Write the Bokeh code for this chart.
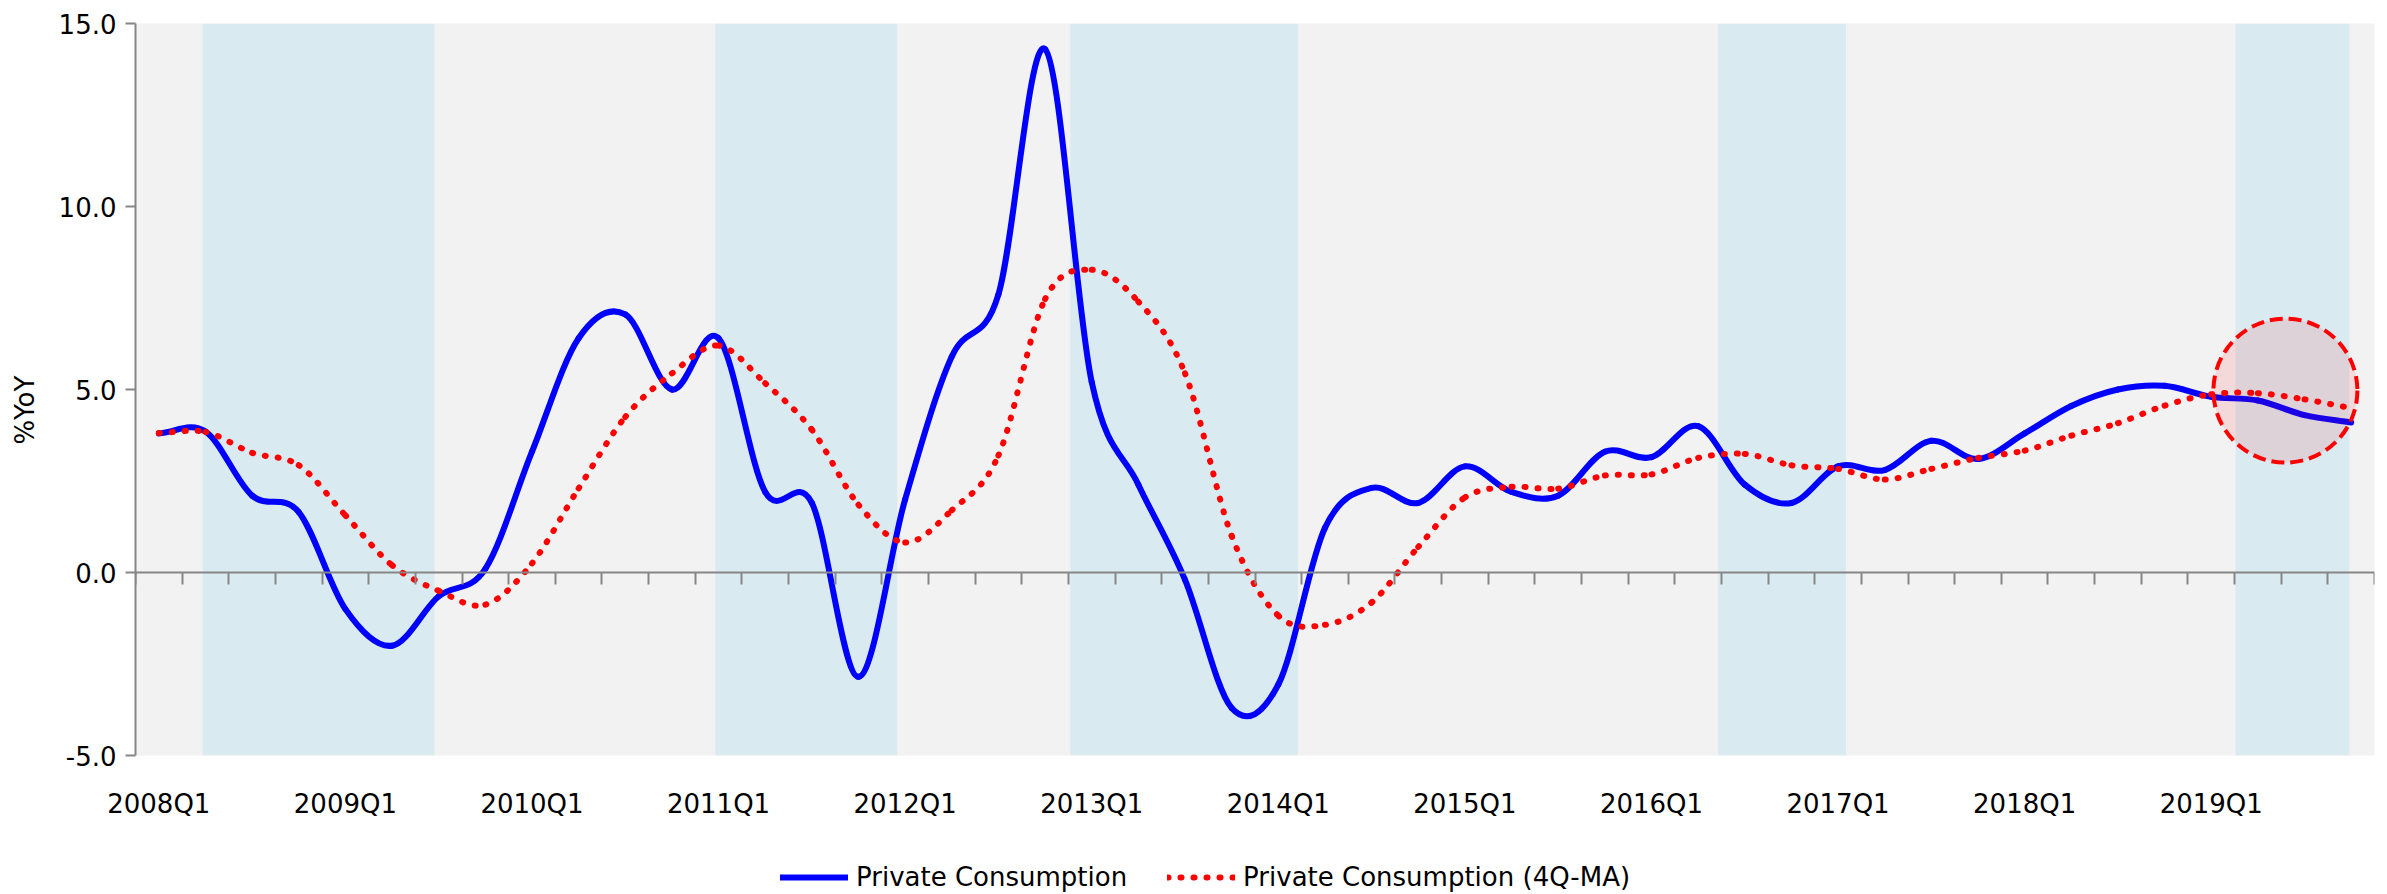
from bokeh.plotting import figure
from bokeh.layouts import column
from bokeh.models import (LinearAxis, FixedTicker, Range1d, Legend, LegendItem,
                          CustomJSTickFormatter, NumeralTickFormatter)
from bokeh.embed import file_html
from bokeh.resources import INLINE

# ---------------- data ----------------
quarters = [f"{y}Q{q}" for y in range(2008, 2020) for q in range(1, 5)]

private_consumption = [
    3.8, 3.85, 2.1, 1.65, -1.0, -2.0, -0.65, 0.1,
    3.3, 6.4, 7.05, 5.0, 6.4, 2.2, 1.9, -2.85,
    2.0, 5.9, 7.6, 14.3, 5.2, 2.4, -0.2, -3.7,
    -3.06, 1.22, 2.31, 1.9, 2.9, 2.2, 2.1, 3.3,
    3.15, 4.0, 2.4, 1.9, 2.9, 2.8, 3.6, 3.1,
    3.8, 4.55, 5.0, 5.1, 4.8, 4.7, 4.3, 4.1,
]

private_consumption_ma = [
    3.81, 3.84, 3.27, 2.93, 1.56, 0.2, -0.5, -0.88,
    0.25, 2.3, 4.25, 5.44, 6.2, 5.17, 3.9, 1.85,
    0.82, 1.7, 3.2, 7.47, 8.27, 7.4, 5.44, 1.0,
    -1.18, -1.43, -0.82, 0.7, 2.05, 2.34, 2.29, 2.65,
    2.68, 3.13, 3.24, 2.93, 2.83, 2.54, 2.83, 3.13,
    3.33, 3.74, 4.08, 4.56, 4.87, 4.9, 4.73, 4.49,
]

series_names = ["Private Consumption", "Private Consumption (4Q-MA)"]

# shaded periods (in quarter-index units from 2008Q1)
band_start = [1.44, 12.43, 20.04, 33.93, 45.02]
band_end = [6.41, 16.33, 24.92, 36.67, 47.46]

# highlighted point (annotation)
highlight_x = [46.09]
highlight_y = [4.97]

y_ticks = [-5, 0, 5, 10, 15]

FONT = "DejaVu Sans"
GRAY = "#868686"
NBSP = "\u00a0"
BLUE = "#0000FF"
RED = "#FF0000"
NAN = float("nan")

x_pos = [i + 0.5 for i in range(len(quarters))]


def smooth(xs, ys):
    n = len(xs)
    tx, ty = [], []
    for i in range(n):
        a = max(i - 1, 0)
        b = min(i + 1, n - 1)
        f = 0.5 if (0 < i < n - 1) else 1.0
        tx.append((xs[b] - xs[a]) * f)
        ty.append((ys[b] - ys[a]) * f)
    seg = dict(x0=[], y0=[], x1=[], y1=[], cx0=[], cy0=[], cx1=[], cy1=[])
    for i in range(n - 1):
        seg["x0"].append(xs[i]); seg["y0"].append(ys[i])
        seg["x1"].append(xs[i + 1]); seg["y1"].append(ys[i + 1])
        seg["cx0"].append(xs[i] + tx[i] / 3); seg["cy0"].append(ys[i] + ty[i] / 3)
        seg["cx1"].append(xs[i + 1] - tx[i + 1] / 3); seg["cy1"].append(ys[i + 1] - ty[i + 1] / 3)
    return seg


MAIN_H = 840
p = figure(width=2387, height=MAIN_H,
           x_range=Range1d(0, len(quarters)), y_range=Range1d(-5, 15),
           output_backend="svg", toolbar_location=None,
           min_border_left=135, min_border_right=13, min_border_top=23,
           min_border_bottom=MAIN_H - 755,
           background_fill_color="#F2F2F2", border_fill_color="white",
           outline_line_color=None)
p.grid.visible = False

# bands
p.quad(left=band_start, right=band_end, bottom=-5, top=15,
       fill_color="#DAEAF1", line_color=None)

# lines
p.bezier(line_color=BLUE, line_width=6, line_cap="round",
         **smooth(x_pos, private_consumption))
p.bezier(line_color=RED, line_width=6, line_cap="round",
         line_dash="1 12", **smooth(x_pos, private_consumption_ma))

# highlight circle
p.scatter(highlight_x, highlight_y, marker="circle", size=144,
          fill_color=RED, fill_alpha=0.1,
          line_color=RED, line_width=4, line_dash="13 6")

# y axis
ya = p.yaxis[0]
ya.ticker = FixedTicker(ticks=y_ticks)
ya.formatter = NumeralTickFormatter(format="0.0")
ya.axis_label = "%YoY" + NBSP * 5
ya.axis_label_text_font = FONT
ya.axis_label_text_font_size = "26px"
ya.axis_label_text_font_style = "normal"
ya.axis_label_text_color = "black"
ya.axis_label_standoff = 16
ya.major_label_text_font = FONT
ya.major_label_text_font_size = "26px"
ya.major_label_text_color = "black"
ya.major_label_standoff = 9
ya.axis_line_color = GRAY
ya.axis_line_width = 2
ya.major_tick_line_color = GRAY
ya.major_tick_line_width = 2
ya.major_tick_in = 0
ya.major_tick_out = 10
ya.minor_tick_line_color = None

# x axis labels (bottom)
xa = p.xaxis[0]
xa.ticker = FixedTicker(ticks=[i + 0.5 for i in range(0, len(quarters), 4)])
xa.formatter = CustomJSTickFormatter(args=dict(labels=quarters),
                                     code="return labels[Math.floor(tick)] || '';")
xa.major_label_text_font = FONT
xa.major_label_text_font_size = "26px"
xa.major_label_text_color = "black"
xa.major_label_standoff = 33
xa.axis_line_color = None
xa.major_tick_line_color = None
xa.major_tick_in = 0
xa.major_tick_out = 0
xa.minor_tick_line_color = None

# x axis line with quarter ticks at zero
zero_axis = LinearAxis(fixed_location=0,
                       ticker=FixedTicker(ticks=list(range(len(quarters) + 1))),
                       major_label_text_font_size="0px",
                       major_label_text_color=None,
                       axis_line_color=GRAY, axis_line_width=2,
                       major_tick_line_color=GRAY, major_tick_line_width=2,
                       major_tick_in=0, major_tick_out=12,
                       minor_tick_line_color=None)
p.add_layout(zero_axis, "below")

# ---------------- legend strip ----------------
LEG_H = 894 - MAIN_H
pl = figure(width=2387, height=LEG_H, x_range=Range1d(0, 1), y_range=Range1d(0, 1),
            output_backend="svg", toolbar_location=None,
            min_border=0, min_border_left=0, min_border_right=0,
            min_border_top=0, min_border_bottom=0,
            background_fill_color="white", border_fill_color="white",
            outline_line_color=None)
pl.axis.visible = False
pl.grid.visible = False
# legend proxies (a single NaN point draws nothing)
lb = pl.line(x=[NAN], y=[NAN], line_color=BLUE, line_width=6, line_cap="round")
lr = pl.line(x=[NAN], y=[NAN], line_color=RED, line_width=6, line_cap="round",
             line_dash="1 12")

legend = Legend(items=[LegendItem(label=series_names[0], renderers=[lb]),
                       LegendItem(label=series_names[1], renderers=[lr])],
                location=(645, 2), orientation="horizontal",
                glyph_width=68, glyph_height=20, label_standoff=8, spacing=40,
                padding=0, margin=0, border_line_color=None,
                background_fill_alpha=0,
                label_text_font=FONT, label_text_font_size="26px",
                label_text_color="black")
pl.add_layout(legend)

layout = column(p, pl, spacing=0)
open("out.html", "w").write(file_html(layout, INLINE))
